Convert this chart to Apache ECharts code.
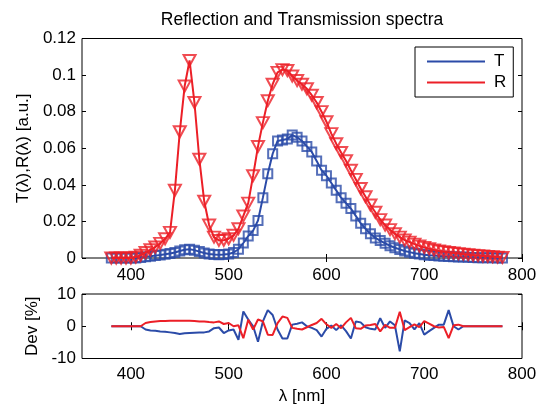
<!DOCTYPE html>
<html><head><meta charset="utf-8">
<script src="https://cdn.jsdelivr.net/npm/echarts@6/dist/echarts.min.js"></script>
<style>html,body{margin:0;padding:0;background:#fff}#c{width:544px;height:410px}</style>
</head><body><div id="c"></div>
<script>
const titleText = 'Reflection and Transmission spectra';
const wavelength = [380,385,390,395,400,405,410,415,420,425,
 430,435,440,445,450,455,460,465,470,475,
 480,485,490,495,500,505,510,515,520,525,
 530,535,540,545,550,555,560,565,570,575,
 580,585,590,595,600,605,610,615,620,625,
 630,635,640,645,650,655,660,665,670,675,
 680,685,690,695,700,705,710,715,720,725,
 730,735,740,745,750,755,760,765,770,775,
 780];
const T = [0,0,0,0,0,0,0.0003,0.0007,0.001,0.0013,
 0.0016,0.002,0.0025,0.003,0.0038,0.0045,0.0048,0.0043,0.0035,0.0027,
 0.0022,0.0019,0.0018,0.0019,0.0022,0.003,0.0048,0.0082,0.012,0.015,
 0.0205,0.033,0.046,0.057,0.064,0.0645,0.065,0.0672,0.066,0.064,
 0.061,0.058,0.053,0.048,0.045,0.041,0.037,0.033,0.030,0.027,
 0.023,0.019,0.016,0.0133,0.011,0.0095,0.008,0.0067,0.0056,0.0047,
 0.0038,0.0032,0.0026,0.0022,0.0018,0.0015,0.0013,0.0011,0.0009,0.0008,
 0.0007,0.0006,0.0005,0.0004,0.0003,0.0002,0.0002,0.0001,0.0001,0,
 0];
const R = [0,0,0,0,0,0.0005,0.0015,0.003,0.0045,0.006,
 0.008,0.0105,0.014,0.037,0.069,0.094,0.108,0.085,0.054,0.031,
 0.018,0.0114,0.0096,0.0097,0.0105,0.0124,0.016,0.023,0.030,0.045,
 0.061,0.074,0.086,0.095,0.1015,0.103,0.1025,0.0995,0.097,0.095,
 0.0925,0.089,0.085,0.080,0.0745,0.068,0.0625,0.0577,0.0532,0.048,
 0.043,0.038,0.0335,0.029,0.025,0.021,0.018,0.0155,0.0133,0.0114,
 0.0098,0.0087,0.0076,0.0066,0.0058,0.0051,0.0044,0.0038,0.0034,0.003,
 0.0027,0.0024,0.0021,0.0018,0.0015,0.0013,0.0011,0.0009,0.0007,0.0005,
 0.0003];
const devT = [0,0,0,0,0,0,0,-1.0,-1.3,-1.4,
 -1.6,-1.7,-1.9,-2.1,-2.4,-2.2,-2.1,-2.0,-1.9,-1.9,
 -1.6,-0.6,-0.4,-2.1,-1.3,-1.0,-4.2,4.6,2.1,0.0,
 -4.8,1.5,5.0,3.5,-1.0,-3.8,-3.8,0.5,0.8,1.2,
 0.0,-0.5,-1.2,-3.2,-0.8,0.2,-1.2,0.3,-1.5,-3.8,
 1.5,1.2,-0.3,-0.8,-1.0,2.5,-0.5,1.5,0.3,-7.8,
 1.8,1.0,-1.0,1.0,-2.6,-1.5,-0.5,0.5,0.5,5.0,
 0.0,-1.0,0,0,0,0,0,0,0,0,
 0];
const devR = [0,0,0,0,0,0,0,1.0,1.3,1.5,
 1.6,1.6,1.7,1.7,1.7,1.7,1.7,1.6,1.5,1.5,
 1.3,1.2,1.5,0.7,1.0,0.0,0.3,-3.7,2.0,-1.0,
 2.1,1.5,-2.6,-2.7,1.0,3.0,2.6,-0.5,-0.8,-1.0,
 -0.3,0.4,1.0,2.3,0.6,-0.5,0.7,-0.6,1.2,2.6,
 -0.6,-0.8,0.2,0.4,0.7,-1.6,0.4,-0.5,-0.5,4.5,
 -1.2,-0.3,0.6,-0.3,1.6,0.8,0.0,-0.4,-0.2,-3.7,
 0.3,0.5,0,0,0,0,0,0,0,0,
 0];
const xTicks = [400,500,600,700,800];
const yTicksMain = [0,0.02,0.04,0.06,0.08,0.1,0.12];
const yTicksDev = [-10,0,10];

const BLUE = '#2b4ba8', RED = '#ec1f27';
const FONT = 'Liberation Sans, Arial, Helvetica, sans-serif';
const pair = (xs, ys) => xs.map((x, i) => [x, ys[i]]);

function xAx(grid, pos, labels, name, margin) {
  return {
    type: 'value', gridIndex: grid, position: pos, min: 350, max: 800,
    axisLine: {show: false}, splitLine: {show: false},
    axisTick: {show: true, inside: true, length: 4, customValues: xTicks, lineStyle: {color: '#000'}},
    axisLabel: {show: labels, customValues: xTicks, margin: margin || 7, fontSize: 17, color: '#000', fontFamily: FONT},
    name: name || '', nameLocation: 'middle', nameGap: 29,
    nameTextStyle: {fontSize: 17, color: '#000', fontFamily: FONT}
  };
}
function yAx(grid, pos, labels, mn, mx, ticks, name, gap) {
  return {
    type: 'value', gridIndex: grid, position: pos, min: mn, max: mx,
    axisLine: {show: false}, splitLine: {show: false},
    axisTick: {show: true, inside: true, length: 4, customValues: ticks, lineStyle: {color: '#000'}},
    axisLabel: {show: labels, customValues: ticks, margin: 6, fontSize: 17, color: '#000', fontFamily: FONT},
    name: name || '', nameLocation: 'middle', nameGap: gap || 0,
    nameTextStyle: {fontSize: 17, color: '#000', fontFamily: FONT}
  };
}

const chart = echarts.init(document.getElementById('c'), null, {renderer: 'canvas'});
chart.setOption({
  animation: false,
  backgroundColor: '#fff',
  textStyle: {fontFamily: FONT},
  graphic: [{
    type: 'text', x: 302, y: 20,
    style: {text: titleText, fontSize: 17.5, fontFamily: FONT, fill: '#000', align: 'center', verticalAlign: 'middle'}
  }],
  grid: [
    {left: 82, right: 22, top: 38.5, height: 219.5, show: true, borderColor: '#000', borderWidth: 1, backgroundColor: 'transparent'},
    {left: 82, right: 22, top: 294, height: 64.5, show: true, borderColor: '#000', borderWidth: 1, backgroundColor: 'transparent'}
  ],
  xAxis: [
    xAx(0, 'bottom', true, '', 9),
    xAx(0, 'top', false),
    xAx(1, 'bottom', true, 'λ [nm]', 7),
    xAx(1, 'top', false)
  ],
  yAxis: [
    yAx(0, 'left', true, 0, 0.12, yTicksMain, 'T(λ),R(λ) [a.u.]', 47),
    yAx(0, 'right', false, 0, 0.12, yTicksMain),
    yAx(1, 'left', true, -10, 10, yTicksDev, 'Dev [%]', 40),
    yAx(1, 'right', false, -10, 10, yTicksDev)
  ],
  legend: {
    data: [{name: 'T', icon: 'rect'}, {name: 'R', icon: 'rect'}],
    orient: 'vertical', left: 415, top: 47,
    itemWidth: 58, itemHeight: 2, itemGap: 4,
    padding: [6, 7, 6, 12],
    borderColor: '#000', borderWidth: 1, borderRadius: 0, backgroundColor: '#fff',
    textStyle: {fontSize: 17, color: '#000', fontFamily: FONT, padding: [0, 0, 0, 4]}
  },
  series: [
    {name: 'T', type: 'line', xAxisIndex: 0, yAxisIndex: 0, data: pair(wavelength, T),
     showSymbol: false, color: BLUE, lineStyle: {width: 2, color: BLUE}, z: 2},
    {name: 'Tmarks', type: 'scatter', xAxisIndex: 0, yAxisIndex: 0, data: pair(wavelength, T),
     symbol: 'rect', symbolSize: 9,
     itemStyle: {color: 'rgba(0,0,0,0)', borderColor: BLUE, borderWidth: 2}, z: 2},
    {name: 'R', type: 'line', xAxisIndex: 0, yAxisIndex: 0, data: pair(wavelength, R),
     showSymbol: false, color: RED, lineStyle: {width: 2, color: RED}, z: 3},
    {name: 'Rmarks', type: 'scatter', xAxisIndex: 0, yAxisIndex: 0, data: pair(wavelength, R),
     symbol: 'triangle', symbolRotate: 180, symbolSize: [12, 11],
     itemStyle: {color: 'rgba(0,0,0,0)', borderColor: RED, borderWidth: 2}, z: 3},
    {name: 'devT', type: 'line', xAxisIndex: 2, yAxisIndex: 2, data: pair(wavelength, devT),
     showSymbol: false, lineStyle: {width: 2, color: BLUE}, z: 2},
    {name: 'devR', type: 'line', xAxisIndex: 2, yAxisIndex: 2, data: pair(wavelength, devR),
     showSymbol: false, lineStyle: {width: 2, color: RED}, z: 3}
  ]
});
</script></body></html>
